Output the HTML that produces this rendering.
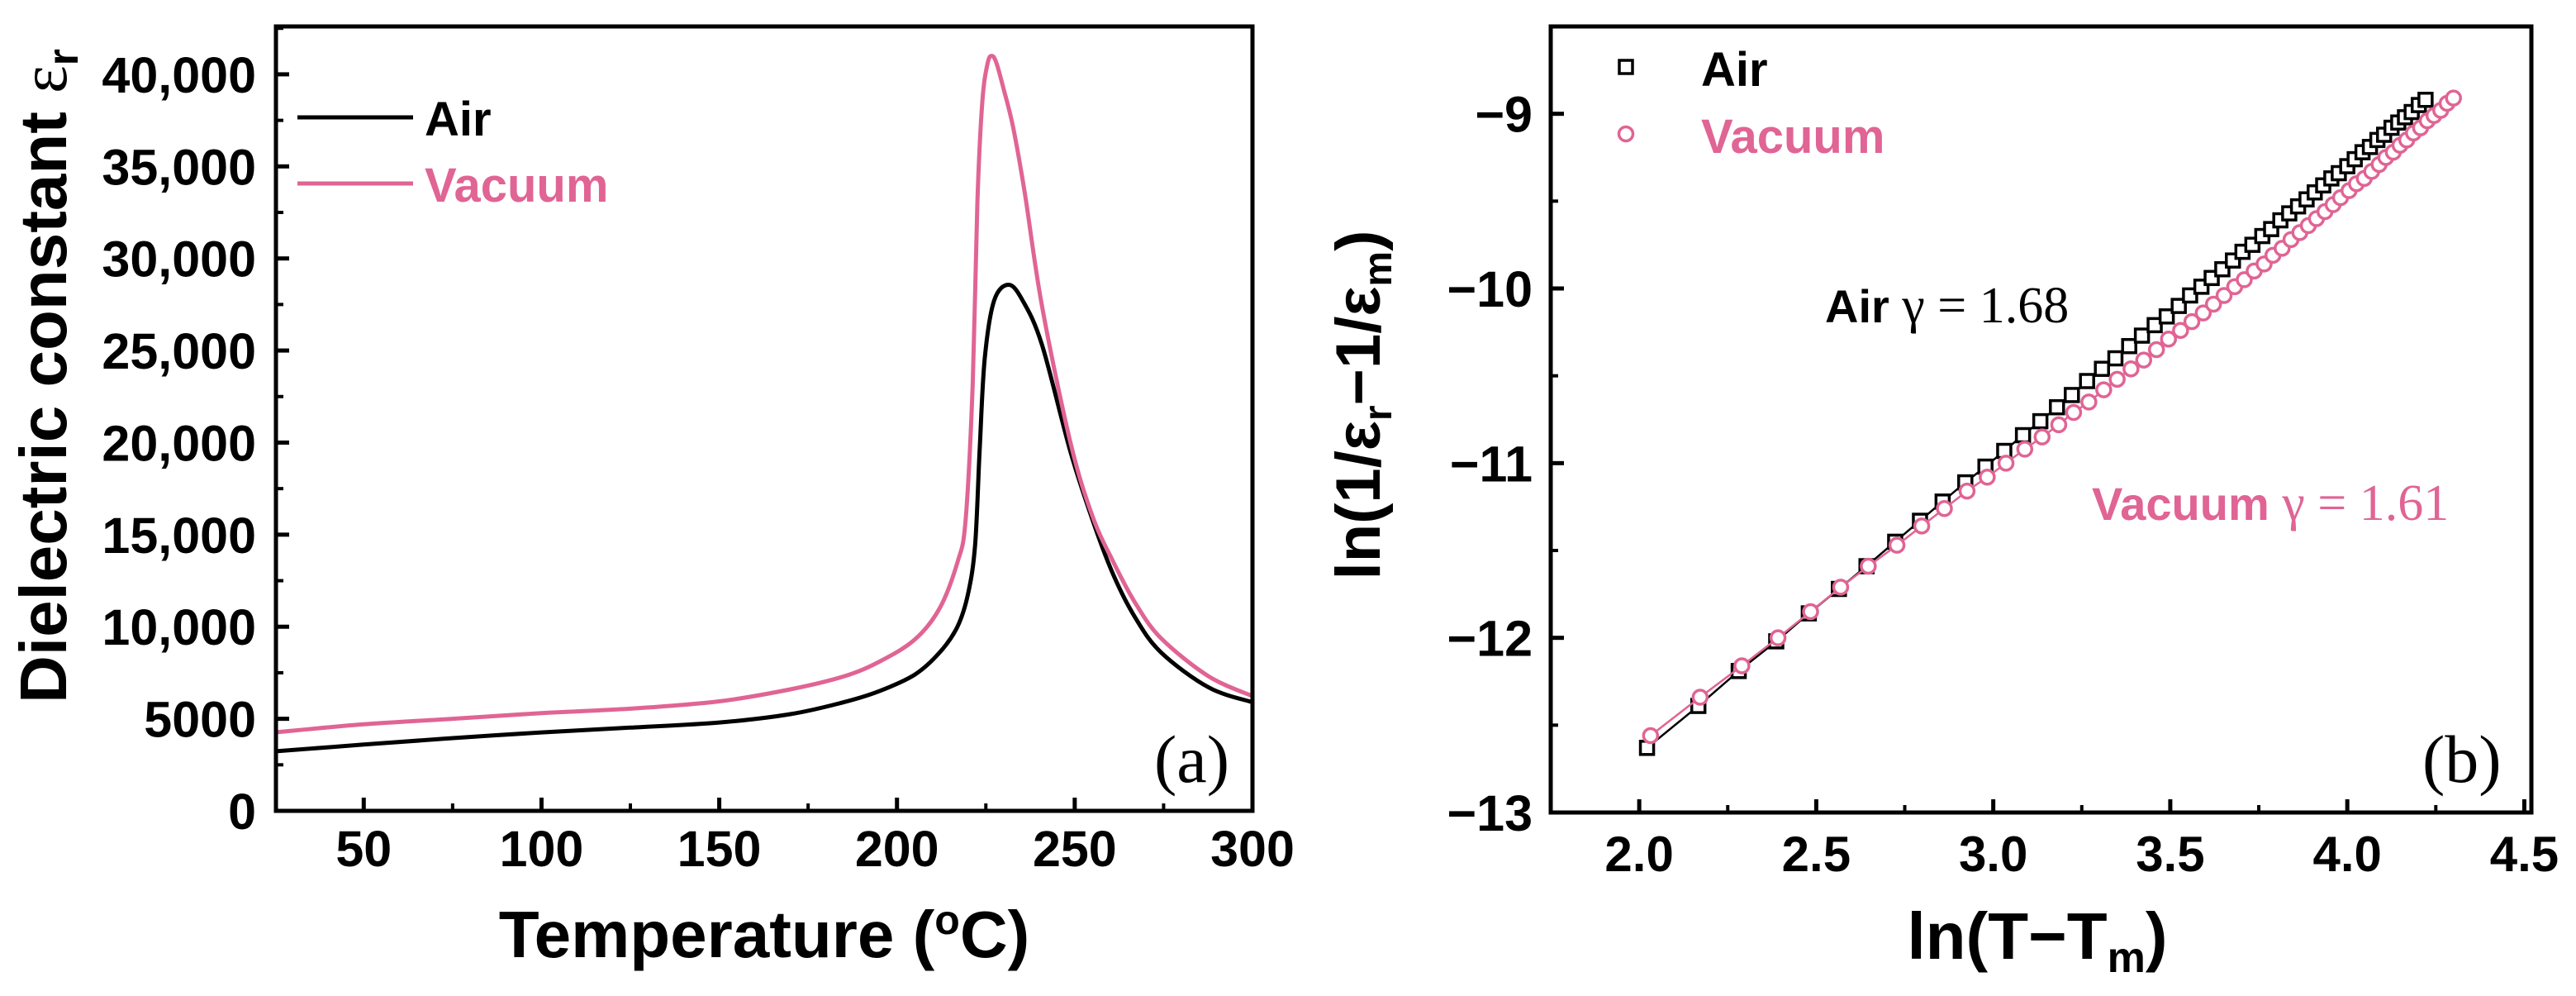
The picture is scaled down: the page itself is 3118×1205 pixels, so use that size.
<!DOCTYPE html>
<html><head><meta charset="utf-8">
<style>
html,body{margin:0;padding:0;background:#fff;}
svg{display:block;font-family:"Liberation Sans",Arial,sans-serif;}
</style></head>
<body>
<svg id="fig" width="3118" height="1205" viewBox="0 0 3118 1205" xmlns="http://www.w3.org/2000/svg">
  <rect width="3118" height="1205" fill="#fff"/>
  <g id="pa"></g>
  <g id="pb"></g>
</svg>
<script>
// ---------- Panel (a) data ----------
const aTemp = [25, 50, 75, 100, 125, 150, 170, 185, 195, 205, 212, 217, 219.3, 221.3, 222.6, 224, 225.5, 226.7, 228, 230, 232.7, 236, 240.8, 248.8, 255, 260.9, 267, 274.3, 287.7, 300];
const aVacuum = [4260, 4700, 5000, 5310, 5550, 5950, 6600, 7300, 8100, 9300, 11000, 13500, 15800, 23200, 33000, 38500, 40600, 41000, 40600, 39200, 37100, 33500, 27400, 20000, 16000, 13500, 11300, 9370, 7300, 6230];
const aTempAir = [25, 50, 75, 100, 125, 150, 170, 185, 195, 205, 212, 217, 220, 222, 223.3, 224.7, 227.3, 231.4, 235.4, 240.8, 248.8, 255, 260.9, 267, 274.3, 287.7, 300];
const aAir = [3230, 3600, 3950, 4260, 4520, 4800, 5250, 5900, 6500, 7400, 8600, 10000, 11800, 14500, 19800, 24600, 27700, 28570, 27700, 25300, 19500, 15800, 12800, 10500, 8600, 6700, 5900];
const aYTicks = [0, 5000, 10000, 15000, 20000, 25000, 30000, 35000, 40000];
const aYTickLabels = ["0", "5000", "10,000", "15,000", "20,000", "25,000", "30,000", "35,000", "40,000"];
const aXTicks = [50, 100, 150, 200, 250, 300];
const aXTickLabels = ["50", "100", "150", "200", "250", "300"];

// ---------- Panel (b) data ----------
const bAirX = [2.022,2.167,2.281,2.387,2.479,2.564,2.642,2.723,2.793,2.857,2.921,2.978,3.031,3.084,3.133,3.180,3.222,3.265,3.307,3.345,3.384,3.420,3.456,3.490,3.524,3.556,3.588,3.617,3.647,3.677,3.704,3.732,3.760,3.785,3.811,3.836,3.861,3.885,3.908,3.932,3.955,3.976,4.000,4.021,4.043,4.064,4.085,4.104,4.125,4.144,4.163,4.182,4.202,4.221];
const bAirY = [-12.63,-12.39,-12.19,-12.02,-11.86,-11.72,-11.59,-11.45,-11.33,-11.22,-11.11,-11.02,-10.93,-10.84,-10.76,-10.68,-10.61,-10.53,-10.46,-10.40,-10.33,-10.27,-10.21,-10.16,-10.10,-10.04,-9.99,-9.94,-9.89,-9.84,-9.79,-9.75,-9.70,-9.66,-9.61,-9.57,-9.53,-9.49,-9.45,-9.41,-9.37,-9.34,-9.30,-9.26,-9.22,-9.19,-9.15,-9.12,-9.08,-9.05,-9.02,-8.99,-8.95,-8.92];
const bVacX = [2.032,2.172,2.290,2.392,2.484,2.569,2.647,2.728,2.798,2.862,2.926,2.983,3.036,3.089,3.138,3.185,3.227,3.270,3.312,3.350,3.389,3.425,3.461,3.495,3.529,3.561,3.593,3.622,3.652,3.682,3.709,3.737,3.765,3.790,3.816,3.841,3.866,3.890,3.913,3.937,3.960,3.981,4.005,4.026,4.048,4.069,4.090,4.109,4.130,4.149,4.168,4.187,4.207,4.226,4.245,4.264,4.282,4.300];
const bVacY = [-12.56,-12.34,-12.16,-12.00,-11.85,-11.71,-11.59,-11.47,-11.36,-11.26,-11.16,-11.08,-11.00,-10.92,-10.85,-10.78,-10.71,-10.65,-10.58,-10.52,-10.46,-10.41,-10.35,-10.29,-10.24,-10.19,-10.14,-10.09,-10.04,-9.99,-9.95,-9.90,-9.86,-9.81,-9.77,-9.72,-9.68,-9.64,-9.60,-9.56,-9.52,-9.48,-9.44,-9.40,-9.37,-9.33,-9.29,-9.25,-9.22,-9.18,-9.15,-9.11,-9.08,-9.04,-9.01,-8.98,-8.94,-8.91];
const bYTicks = [-13, -12, -11, -10, -9];
const bYTickLabels = ["\u221213", "\u221212", "\u221211", "\u221210", "\u22129"];
const bXTicks = [2.0, 2.5, 3.0, 3.5, 4.0, 4.5];
const bXTickLabels = ["2.0", "2.5", "3.0", "3.5", "4.0", "4.5"];

const NS = "http://www.w3.org/2000/svg";
const PINK = "#e06494";
function mk(parent, tag, attrs, text) {
  const e = document.createElementNS(NS, tag);
  for (const k in attrs) e.setAttribute(k, attrs[k]);
  if (text !== undefined) e.textContent = text;
  parent.appendChild(e);
  return e;
}
function smoothPath(pts) {
  let d = 'M' + pts[0][0].toFixed(1) + ',' + pts[0][1].toFixed(1);
  for (let i = 0; i < pts.length - 1; i++) {
    const p0 = pts[Math.max(0, i - 1)], p1 = pts[i], p2 = pts[i + 1], p3 = pts[Math.min(pts.length - 1, i + 2)];
    const c1x = p1[0] + (p2[0] - p0[0]) / 6, c1y = p1[1] + (p2[1] - p0[1]) / 6;
    const c2x = p2[0] - (p3[0] - p1[0]) / 6, c2y = p2[1] - (p3[1] - p1[1]) / 6;
    d += 'C' + c1x.toFixed(1) + ',' + c1y.toFixed(1) + ' ' + c2x.toFixed(1) + ',' + c2y.toFixed(1) + ' ' + p2[0].toFixed(1) + ',' + p2[1].toFixed(1);
  }
  return d;
}

// ---------- Panel (a) ----------
(function () {
  const g = document.getElementById('pa');
  const L = 334, R = 1516, T = 32, B = 981;
  const xmin = 25.3, xmax = 300, ymin = 0, ymax = 42600;
  const sx = v => L + (v - xmin) / (xmax - xmin) * (R - L);
  const sy = v => B - (v - ymin) / (ymax - ymin) * (B - T);

  function curve(xs, ys, color, name) {
    const pts = xs.map((x, i) => [sx(x), sy(ys[i])]);
    const p = mk(g, 'path', {d: smoothPath(pts), fill: 'none', stroke: color, 'stroke-width': 5, 'stroke-linejoin': 'round'});
    
    
  }
  curve(aTempAir, aAir, '#000', 'air-curve');
  curve(aTemp, aVacuum, PINK, 'vacuum-curve');

  aYTicks.forEach((v, i) => {
    const y = sy(v);
    const t = mk(g, 'line', {x1: L, x2: L + 16, y1: y, y2: y, stroke: '#000', 'stroke-width': 5});
    
    
    const lb = mk(g, 'text', {x: 310, y: y + 22, 'text-anchor': 'end', 'font-size': 61, 'font-weight': 'bold'}, aYTickLabels[i]);
    
    
    if (v + 2500 < ymax) {
      const m = mk(g, 'line', {x1: L, x2: L + 9, y1: sy(v + 2500), y2: sy(v + 2500), stroke: '#000', 'stroke-width': 4});
      
      
    }
  });
  aXTicks.forEach((v, i) => {
    const x = sx(v);
    const t = mk(g, 'line', {x1: x, x2: x, y1: B, y2: B - 16, stroke: '#000', 'stroke-width': 5});
    
    
    const lb = mk(g, 'text', {x: x, y: 1048, 'text-anchor': 'middle', 'font-size': 61, 'font-weight': 'bold'}, aXTickLabels[i]);
    
    
    if (v - 25 > xmin) {
      const m = mk(g, 'line', {x1: sx(v - 25), x2: sx(v - 25), y1: B, y2: B - 9, stroke: '#000', 'stroke-width': 4});
      
      
    }
  });
  const fr = mk(g, 'rect', {x: L, y: T, width: R - L, height: B - T, fill: 'none', stroke: '#000', 'stroke-width': 5});
  
  
})();

// ---------- Panel (b) ----------
(function () {
  const g = document.getElementById('pb');
  const L = 1877, R = 3064, T = 32, B = 983;
  const xmin = 1.75, xmax = 4.52, ymin = -13, ymax = -8.5;
  const sx = v => L + (v - xmin) / (xmax - xmin) * (R - L);
  const sy = v => B - (v - ymin) / (ymax - ymin) * (B - T);

  function series(xs, ys, color, kind, name) {
    let d = '';
    xs.forEach((x, i) => { d += (i ? 'L' : 'M') + sx(x).toFixed(1) + ',' + sy(ys[i]).toFixed(1); });
    const ln = mk(g, 'path', {d: d, fill: 'none', stroke: color, 'stroke-width': 2.5});
    
    
    xs.forEach((x, i) => {
      const cx = sx(x), cy = sy(ys[i]);
      let m;
      if (kind === 'sq') m = mk(g, 'rect', {x: cx - 8, y: cy - 8, width: 16, height: 16, fill: '#fff', stroke: color, 'stroke-width': 3.5});
      else m = mk(g, 'circle', {cx: cx, cy: cy, r: 8.5, fill: '#fff', stroke: color, 'stroke-width': 3.5});
      
      
    });
  }
  series(bAirX, bAirY, '#000', 'sq', 'air');
  series(bVacX, bVacY, PINK, 'ci', 'vacuum');

  bYTicks.forEach((v, i) => {
    const y = sy(v);
    const t = mk(g, 'line', {x1: L, x2: L + 16, y1: y, y2: y, stroke: '#000', 'stroke-width': 5});
    
    
    const lb = mk(g, 'text', {x: 1855, y: y + 22, 'text-anchor': 'end', 'font-size': 61, 'font-weight': 'bold'}, bYTickLabels[i]);
    
    
    if (v + 0.5 < ymax) {
      const m = mk(g, 'line', {x1: L, x2: L + 9, y1: sy(v + 0.5), y2: sy(v + 0.5), stroke: '#000', 'stroke-width': 4});
      
      
    }
  });
  bXTicks.forEach((v, i) => {
    const x = sx(v);
    const t = mk(g, 'line', {x1: x, x2: x, y1: B, y2: B - 16, stroke: '#000', 'stroke-width': 5});
    
    
    const lb = mk(g, 'text', {x: x, y: 1054, 'text-anchor': 'middle', 'font-size': 60, 'font-weight': 'bold'}, bXTickLabels[i]);
    
    
    if (v - 0.25 > xmin) {
      const m = mk(g, 'line', {x1: sx(v - 0.25), x2: sx(v - 0.25), y1: B, y2: B - 9, stroke: '#000', 'stroke-width': 4});
      
      
    }
  });
  const fr = mk(g, 'rect', {x: L, y: T, width: R - L, height: B - T, fill: 'none', stroke: '#000', 'stroke-width': 5});
  
  
})();
</script>
<svg style="position:absolute;left:0;top:0" width="3118" height="1205" viewBox="0 0 3118 1205" xmlns="http://www.w3.org/2000/svg" font-family="Liberation Sans, Arial, sans-serif">
  <text transform="translate(80,455) rotate(-90)" text-anchor="middle" font-size="80" font-weight="bold">Dielectric constant <tspan font-weight="normal" font-family="Liberation Serif, serif">ε</tspan><tspan font-size="52" dy="14">r</tspan></text>
  <text x="925" y="1158" text-anchor="middle" font-size="80" font-weight="bold">Temperature (<tspan font-size="50" dy="-28">o</tspan><tspan dy="28">C)</tspan></text>
  <line x1="360" y1="142" x2="500" y2="142" stroke="#000" stroke-width="5"/>
  <text x="514" y="164" font-size="58" font-weight="bold">Air</text>
  <line x1="360" y1="222" x2="500" y2="222" stroke="#e06494" stroke-width="5"/>
  <text x="514" y="244" font-size="58" font-weight="bold" fill="#e06494">Vacuum</text>
  <text x="1397" y="946" font-size="82" font-family="Liberation Serif, serif">(a)</text>

  <text transform="translate(1670,490) rotate(-90)" text-anchor="middle" font-size="76" font-weight="bold">ln(1/ε<tspan font-size="48" dy="14">r</tspan><tspan dy="-14">−1/ε</tspan><tspan font-size="48" dy="14">m</tspan><tspan dy="-14">)</tspan></text>
  <text x="2466" y="1160" text-anchor="middle" font-size="80" font-weight="bold">ln(T−T<tspan font-size="52" dy="16">m</tspan><tspan dy="-16">)</tspan></text>
  <rect x="1960" y="73" width="16" height="16" fill="#fff" stroke="#000" stroke-width="3.5"/>
  <text x="2059" y="104" font-size="58" font-weight="bold">Air</text>
  <circle cx="1968" cy="162" r="8.5" fill="#fff" stroke="#e06494" stroke-width="3.5"/>
  <text x="2059" y="185" font-size="58" font-weight="bold" fill="#e06494">Vacuum</text>
  <text x="2209" y="390" font-size="56" font-weight="bold">Air <tspan font-weight="normal" font-family="Liberation Serif, serif" font-size="62">γ = 1.68</tspan></text>
  <text x="2532" y="629" font-size="56" font-weight="bold" fill="#e06494">Vacuum <tspan font-weight="normal" font-family="Liberation Serif, serif" font-size="62">γ = 1.61</tspan></text>
  <text x="2932" y="946" font-size="82" font-family="Liberation Serif, serif">(b)</text>
</svg>
</body></html>
